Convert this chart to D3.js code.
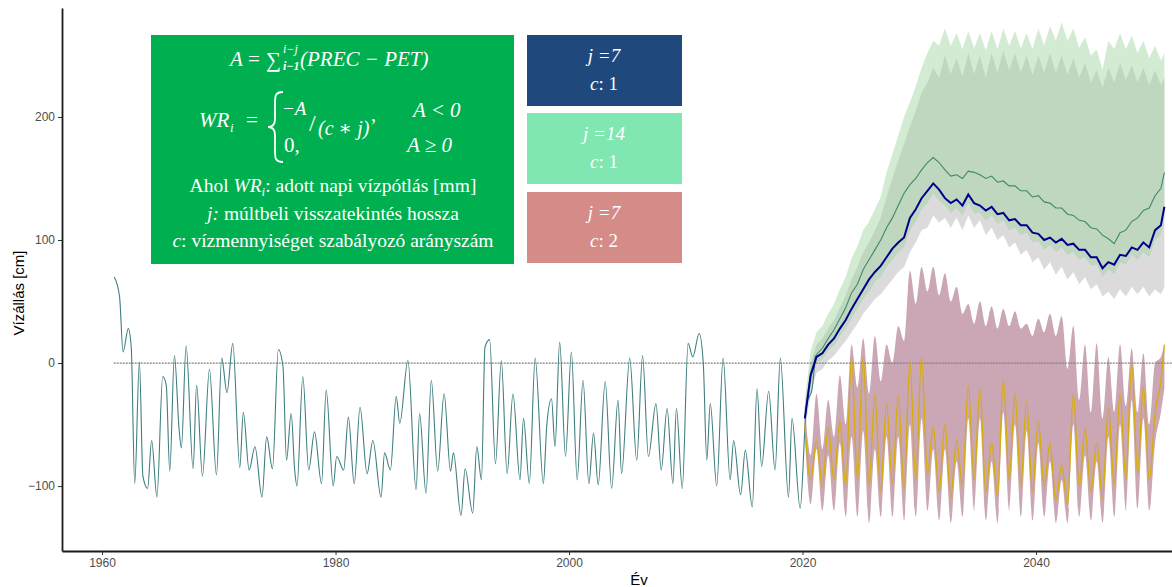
<!DOCTYPE html>
<html>
<head>
<meta charset="utf-8">
<script src="https://cdn.jsdelivr.net/npm/d3@7/dist/d3.min.js"></script>
<style>
  body { margin: 0; background: #fff; }
  svg { display: block; }
</style>
</head>
<body>
<div id="chart"></div>
<script>
// historical water level (1961-2020)
const histYears = [1961.05, 1961.5, 1961.8, 1962.25, 1962.5, 1962.8, 1963.2, 1963.5, 1963.9, 1964.25,
  1964.7, 1965.2, 1965.5, 1965.8, 1966.2, 1966.6, 1966.8, 1967.2, 1967.8, 1968.1,
  1968.6, 1969.2, 1969.8, 1970.25, 1970.7, 1971.2, 1971.8, 1972.1, 1972.6, 1973.1,
  1973.7, 1974.1, 1974.6, 1975.1, 1975.5, 1975.8, 1976.2, 1976.5, 1976.7, 1977.2,
  1977.7, 1978.2, 1978.8, 1979.2, 1979.8, 1980.1, 1980.7, 1981.1, 1981.6, 1982.1,
  1982.7, 1983.2, 1983.9, 1984.2, 1984.7, 1985.2, 1985.5, 1986.2, 1986.9, 1987.2,
  1987.75, 1988.2, 1988.75, 1989.3, 1989.85, 1990.1, 1990.75, 1991.1, 1991.75, 1992.1,
  1992.5, 1992.8, 1993.2, 1993.7, 1994.2, 1994.7, 1995.2, 1995.8, 1996.1, 1996.6,
  1997.1, 1997.8, 1998.1, 1998.5, 1998.8, 1999.2, 1999.7, 2000.2, 2000.7, 2001.2,
  2001.7, 2002.1, 2002.5, 2003.1, 2003.65, 2004.2, 2004.5, 2005.2, 2005.8, 2006.3,
  2006.8, 2007.45, 2007.9, 2008.4, 2008.9, 2009.2, 2009.7, 2010.2, 2010.6, 2011.15,
  2011.5, 2011.8, 2012.1, 2012.65, 2013.2, 2013.8, 2014.1, 2014.7, 2015.1, 2015.7,
  2016.1, 2016.5, 2017.1, 2017.65, 2018.1, 2018.8, 2019.1, 2019.8, 2020.35, 2020.8,
  2021.1];
const histValues = [70, 54, 9, 28, 13, -98, 1, -92, -102, -63,
  -109, -11, -18, -88, 6, -54, -69, 14, -86, -18,
  -92, -5, -91, 4, -24, 16, -85, -40, -87, -68,
  -109, -60, -86, 11, -3, -79, -41, -87, -100, -11,
  -87, -56, -98, -22, -100, -76, -87, -44, -98, -36,
  -90, -63, -109, -73, -87, -27, -49, 2, -103, -41,
  -106, -14, -88, -25, -88, -73, -124, -86, -122, -68,
  -95, 13, 19, -82, 2, -90, -25, -95, -45, -98,
  4, -98, -50, -29, -68, 17, -76, 9, -95, -14,
  -98, -57, -99, -15, -102, -30, -90, 4, -79, 6,
  -76, -33, -87, -37, -98, -37, -102, 16, 5, 24,
  0, -79, -33, -100, 4, -95, -63, -107, -71, -117,
  -21, -84, -23, -87, 4, -109, -45, -118, -33, -22,
  6];

// projection period (2020-2051)
const projYears = [2020.2, 2020.7, 2021.2, 2021.7, 2022.2, 2022.7, 2023.2, 2023.7, 2024.2, 2024.7,
  2025.2, 2025.7, 2026.2, 2026.7, 2027.2, 2027.7, 2028.2, 2028.7, 2029.2, 2029.7,
  2030.2, 2030.7, 2031.2, 2031.7, 2032.2, 2032.7, 2033.2, 2033.7, 2034.2, 2034.7,
  2035.2, 2035.7, 2036.2, 2036.7, 2037.2, 2037.7, 2038.2, 2038.7, 2039.2, 2039.7,
  2040.2, 2040.7, 2041.2, 2041.7, 2042.2, 2042.7, 2043.2, 2043.7, 2044.2, 2044.7,
  2045.2, 2045.7, 2046.2, 2046.7, 2047.2, 2047.7, 2048.2, 2048.7, 2049.2, 2049.7,
  2050.2, 2050.7, 2051.0];

// j=7, c=1
const blueLine = [-45, -10, 5, 8, 15, 20, 28, 35, 44, 52,
  60, 68, 74, 79, 86, 93, 98, 102, 118, 125,
  134, 140, 146, 141, 134, 130, 133, 128, 137, 130,
  128, 124, 127, 121, 122, 116, 117, 112, 112, 106,
  105, 100, 102, 98, 101, 96, 97, 92, 92, 86,
  86, 77, 82, 80, 88, 87, 94, 92, 98, 94,
  108, 112, 127];
const greyBandLow = [-55, -25, -8, -5, 2, 6, 12, 18, 25, 32,
  40, 46, 52, 56, 62, 68, 74, 78, 90, 98,
  108, 110, 120, 114, 118, 110, 118, 108, 120, 110,
  116, 104, 110, 100, 104, 94, 98, 88, 92, 82,
  86, 76, 82, 72, 78, 68, 74, 64, 70, 60,
  64, 54, 58, 52, 60, 54, 62, 56, 62, 54,
  60, 56, 62];
const greyBandHigh = [-35, 0, 15, 20, 28, 35, 45, 55, 68, 78,
  90, 98, 108, 118, 135, 150, 165, 178, 192, 205,
  220, 228, 240, 232, 250, 235, 248, 233, 252, 235,
  250, 232, 252, 236, 254, 238, 252, 236, 250, 234,
  250, 236, 252, 236, 250, 234, 248, 232, 244, 228,
  238, 224, 240, 228, 244, 230, 242, 228, 240, 226,
  238, 226, 232];

// j=14, c=1
const greenLine = [-45, -8, 7, 12, 20, 27, 36, 45, 57, 64,
  76, 84, 92, 100, 110, 118, 128, 138, 145, 150,
  157, 163, 167, 163, 157, 152, 153, 150, 156, 155,
  153, 150, 152, 147, 148, 144, 144, 140, 140, 135,
  136, 131, 130, 126, 126, 121, 120, 116, 115, 110,
  109, 104, 101, 97, 106, 108, 115, 118, 124, 126,
  136, 142, 155];
const greenBandLow = [-50, -18, 0, 3, 10, 14, 22, 28, 36, 44,
  52, 58, 66, 70, 78, 84, 90, 94, 108, 115,
  125, 130, 138, 132, 128, 122, 126, 120, 130, 122,
  122, 116, 120, 113, 116, 108, 110, 104, 106, 98,
  99, 92, 96, 90, 94, 88, 90, 84, 86, 79,
  80, 70, 76, 72, 82, 80, 88, 84, 90, 86,
  100, 104, 118];
const greenBandHigh = [-30, 10, 25, 30, 40, 48, 60, 70, 85, 95,
  108, 115, 125, 135, 155, 170, 185, 200, 212, 225,
  240, 252, 262, 258, 272, 258, 268, 255, 270, 256,
  268, 254, 270, 255, 272, 258, 270, 256, 268, 255,
  272, 258, 274, 262, 277, 262, 272, 256, 265, 250,
  255, 238, 262, 255, 268, 255, 266, 252, 262, 248,
  258, 246, 252];

// j=7, c=2
const yellowLine = [-50, -95, -63, -101, -52, -95, -47, -100, 5, -95,
  5, -100, -25, -105, -33, -98, -27, -102, 2, -95,
  5, -90, -52, -105, -49, -110, -62, -100, -19, -95,
  -21, -105, -65, -108, -14, -95, -25, -100, -31, -105,
  -47, -100, -65, -112, -83, -115, -25, -100, -54, -105,
  -65, -110, -36, -100, -25, -95, 0, -90, -19, -95,
  -41, -14, 15];
const pinkBandLow = [-60, -115, -70, -120, -75, -120, -65, -125, -60, -125,
  -55, -130, -70, -125, -60, -125, -60, -128, -50, -125,
  -45, -120, -70, -128, -70, -130, -80, -125, -45, -120,
  -45, -128, -80, -130, -40, -120, -50, -125, -55, -128,
  -65, -125, -80, -130, -95, -130, -50, -125, -75, -128,
  -80, -130, -60, -125, -50, -120, -30, -118, -45, -120,
  -65, -40, -20];
const pinkBandHigh = [-35, -75, -25, -70, -30, -60, -10, -50, 15, -20,
  20, -25, 22, -15, 15, 0, 30, 18, 75, 48,
  78, 58, 78, 55, 73, 50, 62, 40, 48, 32,
  50, 30, 46, 28, 44, 30, 42, 28, 32, 22,
  36, 25, 40, 22, 38, -5, 30, -30, 15, -40,
  16, -45, 5, -40, 15, -35, 12, -40, 8, -50,
  0, 5, 15];

const xTicks = [1960, 1980, 2000, 2020, 2040];
const yTicks = [-100, 0, 100, 200];

const width = 1172;
const height = 587;
const plot = {left: 62, right: 1172, top: 8, bottom: 551};

const svg = d3.select("#chart").append("svg")
    .attr("width", width)
    .attr("height", height);

const x = d3.scaleLinear().domain([1956.57, 2051.65]).range([plot.left, plot.right]);
const y = d3.scaleLinear().domain([-152.8, 288.6]).range([plot.bottom, plot.top]);

const area = (lo, hi, curve) => d3.area()
    .curve(curve || d3.curveLinear)
    .x((d, i) => x(projYears[i]))
    .y0((d, i) => y(lo[i]))
    .y1((d, i) => y(hi[i]))(projYears);

const line = (xs, ys, curve) => d3.line()
    .curve(curve || d3.curveLinear)
    .x((d, i) => x(xs[i]))
    .y((d, i) => y(ys[i]))(xs);

// bands
svg.append("path").attr("d", area(greyBandLow, greyBandHigh))
    .attr("fill", "#b0b0b0").attr("fill-opacity", 0.45);
svg.append("path").attr("d", area(greenBandLow, greenBandHigh))
    .attr("fill", "#9ed09e").attr("fill-opacity", 0.45);
svg.append("path").attr("d", area(pinkBandLow, pinkBandHigh, d3.curveMonotoneX))
    .attr("fill", "#b9889c").attr("fill-opacity", 0.75);

// zero line
svg.append("line")
    .attr("x1", x(1961)).attr("x2", plot.right)
    .attr("y1", y(0)).attr("y2", y(0))
    .attr("stroke", "#808080").attr("stroke-width", 1.2)
    .attr("stroke-dasharray", "2,1");

// lines
svg.append("path").attr("d", line(histYears, histValues, d3.curveMonotoneX))
    .attr("fill", "none").attr("stroke", "#3f7f80").attr("stroke-width", 1.1);
svg.append("path").attr("d", line(projYears, yellowLine, d3.curveMonotoneX))
    .attr("fill", "none").attr("stroke", "#d6ac0a").attr("stroke-width", 1.3);
svg.append("path").attr("d", line(projYears, greenLine))
    .attr("fill", "none").attr("stroke", "#3f8a68").attr("stroke-width", 1.1);
svg.append("path").attr("d", line(projYears, blueLine))
    .attr("fill", "none").attr("stroke", "#00008b").attr("stroke-width", 2);

// axes
const yAxis = svg.append("g")
    .attr("transform", `translate(${plot.left},0)`)
    .call(d3.axisLeft(y).tickValues(yTicks).tickSize(4).tickSizeOuter(0).tickPadding(3));
const xAxis = svg.append("g")
    .attr("transform", `translate(0,${plot.bottom})`)
    .call(d3.axisBottom(x).tickValues(xTicks).tickFormat(d3.format("d")).tickSize(4).tickSizeOuter(0).tickPadding(3));

[yAxis, xAxis].forEach(g => {
  g.select(".domain").attr("stroke", "#1a1a1a").attr("stroke-width", 1.8);
  g.selectAll(".tick line").attr("stroke", "#333").attr("stroke-width", 1);
  g.selectAll(".tick text")
      .attr("fill", "#4d4d4d")
      .style("font-family", "Liberation Sans, Arial, sans-serif")
      .style("font-size", "12px");
});

svg.append("text")
    .attr("transform", "translate(24,293) rotate(-90)")
    .attr("text-anchor", "middle")
    .style("font-family", "Liberation Sans, Arial, sans-serif")
    .style("font-size", "15px")
    .text("Vízállás [cm]");
svg.append("text")
    .attr("x", 639).attr("y", 585)
    .attr("text-anchor", "middle")
    .style("font-family", "Liberation Sans, Arial, sans-serif")
    .style("font-size", "15px")
    .text("Év");

// formula box
const serif = "Liberation Serif, DejaVu Serif, serif";
const note = svg.append("g").attr("fill", "#fff").style("font-family", serif);
note.append("rect").attr("x", 151).attr("y", 35).attr("width", 363).attr("height", 229)
    .attr("fill", "#00b050");

function put(txt, px, py, size, italic, anchor) {
  return note.append("text").attr("x", px).attr("y", py)
      .attr("text-anchor", anchor || "start")
      .style("font-size", size + "px")
      .style("font-style", italic ? "italic" : "normal")
      .text(txt);
}

put("A", 230, 66, 21, true);
put("=", 248, 66, 21, false);
put("∑", 266, 67, 21, false);
put("i−j", 283, 53, 12, true);
put("i−1", 283, 70, 12, true).style("font-weight", "bold");
put("(PREC − PET)", 300, 66, 21, true);

put("WR", 199, 127, 21, true);
put("i", 230, 132, 13, true);
put("=", 246, 127, 21, false);
note.append("path")
    .attr("d", "M283,92 C275,92 275,96 275,104 L275,119 C275,124 273,127 268,127 C273,127 275,130 275,135 L275,150 C275,158 275,162 283,162")
    .attr("fill", "none").attr("stroke", "#fff").attr("stroke-width", 1.8);
put("−A", 282, 115, 19, true);
put("/", 309, 131, 24, false);
put("(c ∗ j)", 318, 135, 20, true);
put(",", 371, 121, 20, false);
put("A < 0", 413, 117, 21, true);
put("0,", 284, 152, 21, false);
put("A ≥ 0", 407, 152, 21, true);

const l1 = note.append("text").attr("x", 333).attr("y", 192).attr("text-anchor", "middle")
    .style("font-size", "19.5px");
l1.append("tspan").text("Ahol  ");
l1.append("tspan").style("font-style", "italic").text("WR");
l1.append("tspan").style("font-style", "italic").style("font-size", "13px").attr("dy", 4).text("i");
l1.append("tspan").attr("dy", -4).text(": adott napi vízpótlás [mm]");

const l2 = note.append("text").attr("x", 333).attr("y", 220).attr("text-anchor", "middle")
    .style("font-size", "19.5px");
l2.append("tspan").style("font-style", "italic").text("j:");
l2.append("tspan").text(" múltbeli visszatekintés hossza");

const l3 = note.append("text").attr("x", 333).attr("y", 247).attr("text-anchor", "middle")
    .style("font-size", "19.5px");
l3.append("tspan").style("font-style", "italic").text("c");
l3.append("tspan").text(": vízmennyiséget szabályozó arányszám");

// legend boxes
const legend = [
  {fill: "#1f497d", j: "7", c: "1", top: 35},
  {fill: "#80e6b2", j: "14", c: "1", top: 113},
  {fill: "#d58b88", j: "7", c: "2", top: 192}
];
const lg = svg.append("g").attr("fill", "#fff").style("font-family", serif);
legend.forEach(d => {
  lg.append("rect").attr("x", 527).attr("y", d.top).attr("width", 155).attr("height", 71)
      .attr("fill", d.fill);
  lg.append("text").attr("x", 604).attr("y", d.top + 27).attr("text-anchor", "middle")
      .style("font-size", "19px").style("font-style", "italic")
      .text("j =" + d.j);
  const t = lg.append("text").attr("x", 604).attr("y", d.top + 55).attr("text-anchor", "middle")
      .style("font-size", "19px");
  t.append("tspan").style("font-style", "italic").text("c");
  t.append("tspan").text(": " + d.c);
});
</script>
</body>
</html>
